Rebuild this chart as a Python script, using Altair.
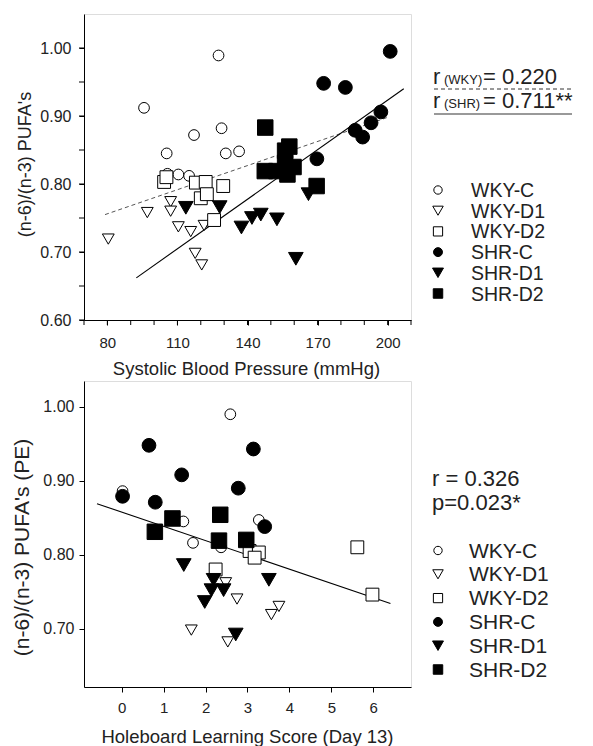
import altair as alt
import pandas as pd

FONT = "Liberation Sans"

GROUPS = ["WKY-C", "WKY-D1", "WKY-D2", "SHR-C", "SHR-D1", "SHR-D2"]
SHAPES = ["circle", "triangle-down", "square", "circle", "triangle-down", "square"]
FILLS = ["white", "white", "white", "black", "black", "black"]
SIZES = [115, 240, 170, 115, 240, 170]
LEG_SIZES = [70, 110, 85, 80, 120, 90]

# ---------- top panel: systolic blood pressure vs (n-6)/(n-3) ----------
top_x = {
    "WKY-C": [95.7, 127.6, 105.4, 117.1, 128.9, 130.7, 136.4, 105.7, 110.4, 115.0],
    "WKY-D1": [80.4, 97.1, 107.1, 107.1, 110.4, 115.7, 117.6, 120.4, 121.4],
    "WKY-D2": [104.3, 105.3, 117.9, 122.1, 129.6, 120.0, 122.6, 125.7],
    "SHR-C": [201.1, 172.6, 181.9, 197.1, 192.9, 186.1, 189.3, 169.7],
    "SHR-D1": [113.6, 128.1, 137.4, 141.9, 145.7, 152.6, 160.7, 166.1],
    "SHR-D2": [147.6, 157.9, 156.1, 156.1, 147.4, 152.4, 159.7, 157.1, 169.6],
}
top_y = {
    "WKY-C": [0.912, 0.989, 0.845, 0.872, 0.882, 0.845, 0.848, 0.815, 0.814, 0.812],
    "WKY-D1": [0.719, 0.758, 0.774, 0.760, 0.737, 0.730, 0.698, 0.681, 0.739],
    "WKY-D2": [0.803, 0.810, 0.802, 0.803, 0.797, 0.779, 0.785, 0.747],
    "SHR-C": [0.995, 0.948, 0.942, 0.906, 0.890, 0.879, 0.869, 0.837],
    "SHR-D1": [0.765, 0.766, 0.736, 0.750, 0.755, 0.748, 0.690, 0.785],
    "SHR-D2": [0.883, 0.855, 0.849, 0.831, 0.819, 0.819, 0.825, 0.814, 0.797],
}
top_fit_wky_x = [79.0, 200.0]
top_fit_wky_y = [0.755, 0.898]
top_fit_shr_x = [92.4, 206.9]
top_fit_shr_y = [0.662, 0.940]

# ---------- bottom panel: holeboard score vs (n-6)/(n-3) PE ----------
bot_x = {
    "WKY-C": [2.59, 0.02, 1.47, 1.70, 2.37, 3.27],
    "WKY-D1": [2.48, 2.75, 1.66, 2.53, 3.57, 3.75],
    "WKY-D2": [5.62, 3.05, 3.27, 3.17, 2.24, 5.98],
    "SHR-C": [0.65, 3.14, 1.43, 2.78, 0.02, 0.80, 3.41],
    "SHR-D1": [1.48, 2.19, 2.14, 2.43, 1.98, 3.51, 2.72],
    "SHR-D2": [2.35, 1.21, 0.79, 2.32, 2.97],
}
bot_y = {
    "WKY-C": [0.990, 0.886, 0.845, 0.816, 0.810, 0.847],
    "WKY-D1": [0.762, 0.740, 0.698, 0.682, 0.719, 0.730],
    "WKY-D2": [0.810, 0.805, 0.803, 0.796, 0.780, 0.746],
    "SHR-C": [0.948, 0.943, 0.908, 0.890, 0.879, 0.871, 0.838],
    "SHR-D1": [0.786, 0.766, 0.752, 0.752, 0.736, 0.766, 0.692],
    "SHR-D2": [0.854, 0.849, 0.831, 0.819, 0.820],
}
bot_fit_x = [-0.59, 6.41]
bot_fit_y = [0.869, 0.734]

top_xlabels = [80, 110, 140, 170, 200]
top_xticks = [70, 80, 90, 100, 110, 120, 130, 140, 150, 160, 170, 180, 190, 200, 210]
top_ylabels = [0.60, 0.70, 0.80, 0.90, 1.00]
top_yticks = [0.60, 0.65, 0.70, 0.75, 0.80, 0.85, 0.90, 0.95, 1.00]
bot_xticks = [0, 1, 2, 3, 4, 5, 6]
bot_yticks = [0.70, 0.80, 0.90, 1.00]

top_annot_r = ["r", "r"]
top_annot_sub = ["(WKY)", "(SHR)"]
top_annot_val = ["= 0.220", "= 0.711**"]
bot_annot = ["r = 0.326", "p=0.023*"]

TOP_XTITLE = "Systolic Blood Pressure (mmHg)"
TOP_YTITLE = "(n-6)/(n-3) PUFA's"
BOT_XTITLE = "Holeboard Learning Score (Day 13)"
BOT_YTITLE = "(n-6)/(n-3) PUFA's (PE)"

TXT = "#222"


def frame(xd, yd):
    rows = []
    for g in GROUPS:
        for a, b in zip(xd[g], yd[g]):
            rows.append({"x": a, "y": b, "group": g})
    return pd.DataFrame(rows)


def points(df, xscale, xaxis, yscale, yaxis):
    return alt.Chart(df).mark_point(
        filled=True, opacity=1, stroke="black", strokeWidth=1
    ).encode(
        x=alt.X("x:Q", scale=xscale, axis=xaxis),
        y=alt.Y("y:Q", scale=yscale, axis=yaxis),
        shape=alt.Shape("group:N", scale=alt.Scale(domain=GROUPS, range=SHAPES), legend=None),
        fill=alt.Fill("group:N", scale=alt.Scale(domain=GROUPS, range=FILLS), legend=None),
        size=alt.Size("group:N", scale=alt.Scale(domain=GROUPS, range=SIZES), legend=None),
        order=alt.Order("ord:Q"),
    ).transform_calculate(ord="indexof(%s, datum.group)" % str(GROUPS))


def manual_legend(x_sym, x_txt, y0, dy, fsize):
    layers = []
    for i, g in enumerate(GROUPS):
        d = pd.DataFrame({"g": [g]})
        layers.append(alt.Chart(d).mark_point(
            filled=True, opacity=1, stroke="black", strokeWidth=1,
            shape=SHAPES[i], fill=FILLS[i], size=LEG_SIZES[i],
        ).encode(x=alt.value(x_sym), y=alt.value(y0 + i * dy)))
        layers.append(alt.Chart(d).mark_text(
            font=FONT, fontSize=fsize, align="left", baseline="middle", color=TXT,
        ).encode(x=alt.value(x_txt), y=alt.value(y0 + i * dy + 1), text="g:N"))
    return layers


def axis_common(**kw):
    base = dict(
        grid=False, domainColor="black", tickColor="black", tickSize=5,
        labelFont=FONT, titleFont=FONT, labelColor=TXT, titleColor=TXT,
        titleFontWeight="normal", labelOverlap=False, labelFlush=False,
        titleBaseline="middle",
    )
    base.update(kw)
    return alt.Axis(**base)


# ---------------- top ----------------
TW, TH = 327, 306
top_xscale = alt.Scale(domain=[70, 210], nice=False, zero=False)
top_yscale = alt.Scale(domain=[0.60, 1.05], nice=False, zero=False)
top_xaxis = axis_common(
    values=top_xlabels, format="d",
    labelFontSize=15, labelPadding=10, title=TOP_XTITLE, titleFontSize=18.5,
    titleX=162, titleY=48,
)
top_yaxis = axis_common(
    values=top_ylabels, format=".2f",
    labelFontSize=16, labelPadding=8, title=TOP_YTITLE, titleFontSize=18,
    titleX=-59, titleY=150,
)

tdf = frame(top_x, top_y)
top_pts = points(tdf, top_xscale, top_xaxis, top_yscale, top_yaxis)

top_xminor = alt.Chart(pd.DataFrame({"x": top_xticks})).mark_rule(color="black", strokeWidth=1).encode(
    x="x:Q", y=alt.value(TH), y2=alt.value(TH + 5))
top_yminor = alt.Chart(pd.DataFrame({"y": top_yticks})).mark_rule(color="black", strokeWidth=1).encode(
    y="y:Q", x=alt.value(-5), x2=alt.value(0))

wky_line = alt.Chart(pd.DataFrame({"x": top_fit_wky_x, "y": top_fit_wky_y})).mark_line(
    color="#555", strokeWidth=1, strokeDash=[4, 3]
).encode(x="x:Q", y="y:Q")
shr_line = alt.Chart(pd.DataFrame({"x": top_fit_shr_x, "y": top_fit_shr_y})).mark_line(
    color="black", strokeWidth=1.1
).encode(x="x:Q", y="y:Q")

AX0 = 349  # annotation left, relative to plot
ty0 = [70, 94]
top_txt = []
for i in range(2):
    top_txt.append(alt.Chart(pd.DataFrame({"t": [top_annot_r[i]]})).mark_text(
        font=FONT, fontSize=22, align="left", baseline="alphabetic", color=TXT
    ).encode(x=alt.value(AX0), y=alt.value(ty0[i]), text="t:N"))
    top_txt.append(alt.Chart(pd.DataFrame({"t": [top_annot_sub[i]]})).mark_text(
        font=FONT, fontSize=13, align="left", baseline="alphabetic", color=TXT
    ).encode(x=alt.value(AX0 + 11), y=alt.value(ty0[i]), text="t:N"))
    top_txt.append(alt.Chart(pd.DataFrame({"t": [top_annot_val[i]]})).mark_text(
        font=FONT, fontSize=22, align="left", baseline="alphabetic", color=TXT
    ).encode(x=alt.value(AX0 + 50), y=alt.value(ty0[i]), text="t:N"))

u1 = alt.Chart(pd.DataFrame({"t": [0]})).mark_rule(color="#333", strokeWidth=1, strokeDash=[4, 3]).encode(
    x=alt.value(AX0 + 1), x2=alt.value(AX0 + 138), y=alt.value(75))
u2 = alt.Chart(pd.DataFrame({"t": [0]})).mark_rule(color="#777", strokeWidth=1.5).encode(
    x=alt.value(AX0 + 1), x2=alt.value(AX0 + 139), y=alt.value(100))

top_leg = manual_legend(354, 387, 176, 20.7, 19.5)

top = alt.layer(
    wky_line, shr_line, top_pts, top_xminor, top_yminor, *top_txt, u1, u2, *top_leg
).properties(width=TW, height=TH)

# ---------------- bottom ----------------
BW, BH = 327, 306
bot_xscale = alt.Scale(domain=[-0.9, 6.9], nice=False, zero=False)
bot_yscale = alt.Scale(domain=[0.621, 1.035], nice=False, zero=False)
bot_xaxis = axis_common(
    values=bot_xticks, format="d", labelFontSize=15, labelPadding=8,
    title=BOT_XTITLE, titleFontSize=18.5, titleX=163, titleY=49,
)
bot_yaxis = axis_common(
    values=bot_yticks, format=".2f", labelFontSize=16, labelPadding=5,
    title=BOT_YTITLE, titleFontSize=21, titleX=-62, titleY=166,
)
bdf = frame(bot_x, bot_y)
bot_pts = points(bdf, bot_xscale, bot_xaxis, bot_yscale, bot_yaxis)
bot_line = alt.Chart(pd.DataFrame({"x": bot_fit_x, "y": bot_fit_y})).mark_line(
    color="black", strokeWidth=1.1
).encode(x="x:Q", y="y:Q")

by0 = [105, 129]
bot_txt = [
    alt.Chart(pd.DataFrame({"t": [bot_annot[i]]})).mark_text(
        font=FONT, fontSize=22, align="left", baseline="alphabetic", color=TXT
    ).encode(x=alt.value(AX0 - 1), y=alt.value(by0[i]), text="t:N")
    for i in range(2)
]

bot_leg = manual_legend(354, 385, 169.5, 23.8, 21)

bottom = alt.layer(bot_line, bot_pts, *bot_txt, *bot_leg).properties(width=BW, height=BH)

chart = alt.vconcat(top, bottom, spacing=61, bounds="flush").resolve_scale(
    shape="independent", fill="independent", size="independent",
    x="independent", y="independent",
).properties(
    padding={"left": 2, "top": 5, "right": 5, "bottom": 0}
).configure_view(stroke="black", strokeWidth=1).configure(background="white")

chart.save("out.html", embed_options={"renderer": "svg", "actions": False})
